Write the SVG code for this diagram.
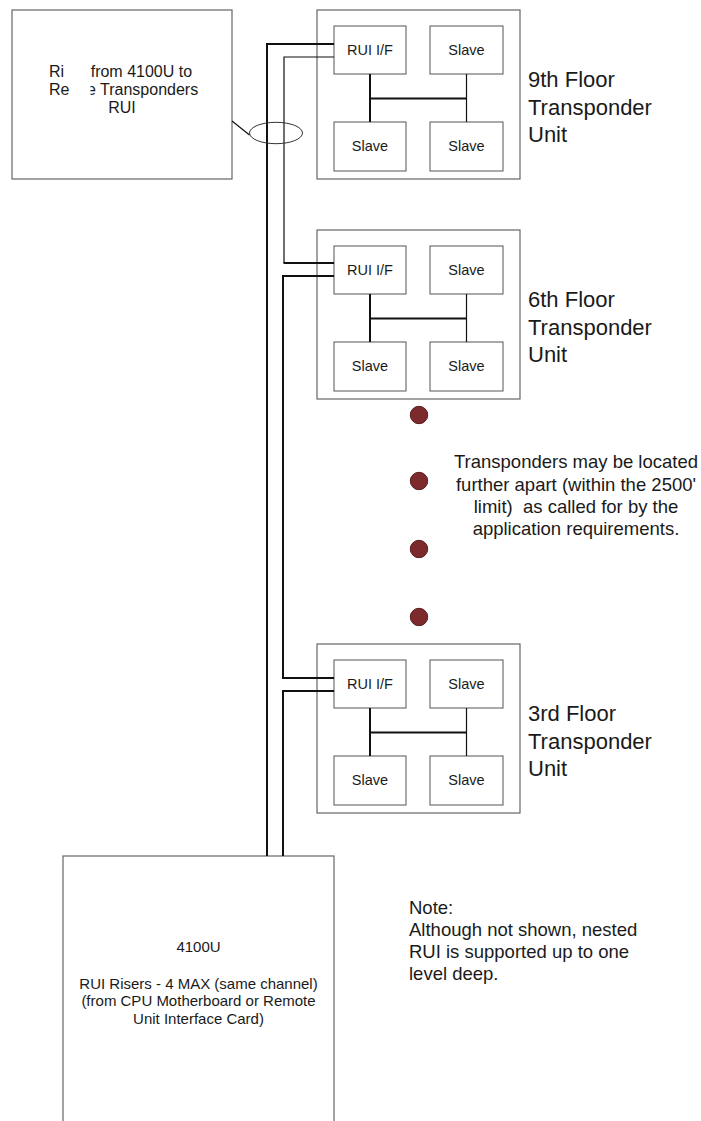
<svg xmlns="http://www.w3.org/2000/svg" width="701" height="1121" viewBox="0 0 701 1121">
<style>
.box{fill:#fff;stroke:#666;stroke-width:1.2}
.inner{fill:#fff;stroke:#555;stroke-width:1}
.t{font-family:"Liberation Sans",Arial,sans-serif;fill:#1a1a1a}
.s{font-size:14.5px;text-anchor:middle}
.fl{font-size:22px}
.big{font-size:18.5px}
.wire{fill:none;stroke:#111;stroke-width:2}
.thin{fill:none;stroke:#111;stroke-width:1.2}
.dot{fill:#7d2a2d;stroke:#5a1c1f;stroke-width:1}
</style>
<defs>
<clipPath id="clipE"><rect x="90.5" y="80" width="120" height="20"/></clipPath>
</defs>
<rect width="701" height="1121" fill="#fff"/>

<g id="riser-note">
<rect class="box" x="12" y="10" width="220" height="169"/>
<text class="t" x="49" y="77.3" font-size="16">Ri</text>
<text class="t" x="90.7" y="77.3" font-size="16">from 4100U to</text>
<text class="t" x="49" y="95.3" font-size="16">Re</text>
<text class="t" x="87" y="95.3" font-size="16" clip-path="url(#clipE)">e Transponders</text>
<text class="t" x="122" y="113.3" font-size="16" text-anchor="middle">RUI</text>
</g>

<g id="panel-4100U">
<rect class="box" x="63" y="856" width="271" height="300"/>
<text class="t" x="198.5" y="952" font-size="15" text-anchor="middle">4100U</text>
<text class="t" x="198.5" y="988.5" font-size="15" text-anchor="middle">RUI Risers - 4 MAX (same channel)</text>
<text class="t" x="198.5" y="1006" font-size="15" text-anchor="middle">(from CPU Motherboard or Remote</text>
<text class="t" x="198.5" y="1023.5" font-size="15" text-anchor="middle">Unit Interface Card)</text>
</g>

<g id="unit-9th">
<rect class="box" x="317" y="10" width="203" height="169"/>
<rect class="inner" x="334" y="26" width="72" height="48"/>
<rect class="inner" x="430" y="26" width="73" height="48"/>
<rect class="inner" x="334" y="122" width="72" height="49"/>
<rect class="inner" x="430" y="122" width="73" height="49"/>
<path class="wire" d="M370 74V122M370 98.5H466.5"/>
<path class="thin" d="M466.5 74V122"/>
<text class="t s" x="370" y="55">RUI I/F</text>
<text class="t s" x="466.5" y="55">Slave</text>
<text class="t s" x="370" y="151">Slave</text>
<text class="t s" x="466.5" y="151">Slave</text>
<text class="t fl" x="528" y="87">9th Floor</text>
<text class="t fl" x="528" y="114.5">Transponder</text>
<text class="t fl" x="528" y="141.5">Unit</text>
</g>

<g id="unit-6th" transform="translate(0,220)">
<rect class="box" x="317" y="10" width="203" height="169"/>
<rect class="inner" x="334" y="26" width="72" height="48"/>
<rect class="inner" x="430" y="26" width="73" height="48"/>
<rect class="inner" x="334" y="122" width="72" height="49"/>
<rect class="inner" x="430" y="122" width="73" height="49"/>
<path class="wire" d="M370 74V122M370 98.5H466.5"/>
<path class="thin" d="M466.5 74V122"/>
<text class="t s" x="370" y="55">RUI I/F</text>
<text class="t s" x="466.5" y="55">Slave</text>
<text class="t s" x="370" y="151">Slave</text>
<text class="t s" x="466.5" y="151">Slave</text>
<text class="t fl" x="528" y="87">6th Floor</text>
<text class="t fl" x="528" y="114.5">Transponder</text>
<text class="t fl" x="528" y="141.5">Unit</text>
</g>

<g id="unit-3rd" transform="translate(0,634)">
<rect class="box" x="317" y="10" width="203" height="169"/>
<rect class="inner" x="334" y="26" width="72" height="48"/>
<rect class="inner" x="430" y="26" width="73" height="48"/>
<rect class="inner" x="334" y="122" width="72" height="49"/>
<rect class="inner" x="430" y="122" width="73" height="49"/>
<path class="wire" d="M370 74V122M370 98.5H466.5"/>
<path class="thin" d="M466.5 74V122"/>
<text class="t s" x="370" y="55">RUI I/F</text>
<text class="t s" x="466.5" y="55">Slave</text>
<text class="t s" x="370" y="151">Slave</text>
<text class="t s" x="466.5" y="151">Slave</text>
<text class="t fl" x="528" y="87">3rd Floor</text>
<text class="t fl" x="528" y="114.5">Transponder</text>
<text class="t fl" x="528" y="141.5">Unit</text>
</g>

<g id="connectors">
<path class="wire" d="M267 856V44H334"/>
<path class="thin" d="M334 57H284V263"/>
<path class="wire" d="M283.5 263H334"/>
<path class="wire" d="M334 276H283V678H334"/>
<path class="wire" d="M334 691H283V856"/>
<path class="thin" d="M232 121L249.5 135"/>
<ellipse cx="276" cy="133" rx="26.5" ry="10.7" fill="none" stroke="#333" stroke-width="1"/>
</g>

<g id="gap-dots">
<circle class="dot" cx="419" cy="415" r="8.7"/>
<circle class="dot" cx="419" cy="481" r="8.7"/>
<circle class="dot" cx="419" cy="549" r="8.7"/>
<circle class="dot" cx="419" cy="617" r="8.7"/>
</g>

<g id="gap-note">
<text class="t big" x="576" y="468.3" text-anchor="middle">Transponders may be located</text>
<text class="t big" x="576" y="490.6" text-anchor="middle">further apart (within the 2500'</text>
<text class="t big" x="576" y="512.8" text-anchor="middle" xml:space="preserve">limit)  as called for by the</text>
<text class="t big" x="576" y="535" text-anchor="middle">application requirements.</text>
</g>

<g id="note">
<text class="t big" x="409" y="914">Note:</text>
<text class="t big" x="409" y="936">Although not shown, nested</text>
<text class="t big" x="409" y="958">RUI is supported up to one</text>
<text class="t big" x="409" y="980">level deep.</text>
</g>
</svg>
